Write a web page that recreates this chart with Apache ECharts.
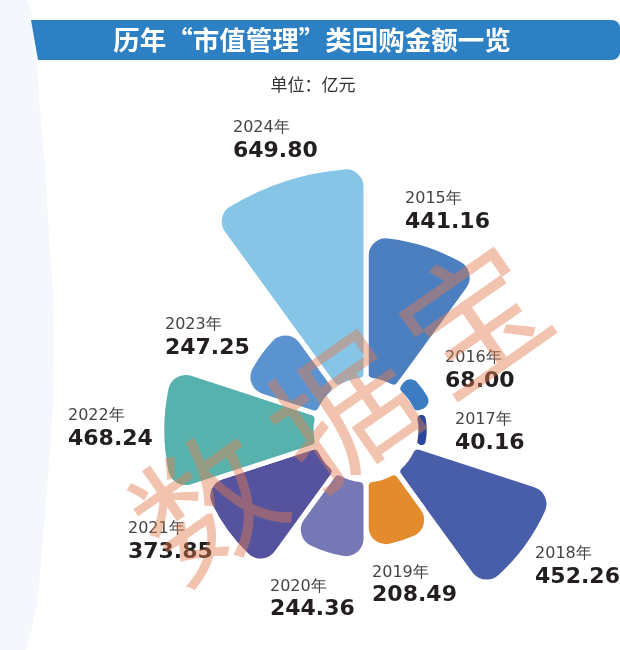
<!DOCTYPE html>
<html>
<head>
<meta charset="utf-8">
<script src="https://cdn.jsdelivr.net/npm/echarts@6/dist/echarts.min.js"></script>
<style>
html,body{margin:0;padding:0;background:#fff;}
#main{width:620px;height:650px;}
</style>
</head>
<body>
<div id="main"></div>
<script>
// Data
const years = ['2015年','2016年','2017年','2018年','2019年','2020年','2021年','2022年','2023年','2024年'];
const amounts = [441.16, 68.00, 40.16, 452.26, 208.49, 244.36, 373.85, 468.24, 247.25, 649.80];
const colors = ['#4b7fc0','#3d7cc3','#2b479c','#485ea8','#e38b2d','#7677b5','#55539d','#57b2ae','#5a93cf','#86c5e6'];
// label nudges (offsets from default outside label anchor)
const nudgeX = [-50, -146, -188, -56, -83, -7, -13, -21, 24, -44];
const nudgeY = [40, 100, 2, -24, -104, -90, -49, -2, 67, -31];

const chart = echarts.init(document.getElementById('main'), null, {renderer: 'canvas'});

const data = years.map((y, i) => ({
  name: y,
  value: amounts[i],
  itemStyle: {color: colors[i]}
}));

const wmColor = 'rgba(226,125,80,0.45)';
const wmFont = 'normal 140px "Noto Sans CJK SC"';

chart.setOption({
  backgroundColor: '#ffffff',
  animation: false,
  graphic: [
    {type: 'polygon', z: -10, shape: {points: [[0,0],[27,0],[40,110],[50,250],[54,350],[46,500],[26,650],[0,650]], smooth: 0.4}, style: {fill: '#f4f7fb'}},
    {type: 'polygon', z: 1, shape: {points: [[31,20],[42,20],[42,60],[38,60]]}, style: {fill: '#2e80c4'}},
    {type: 'rect', z: 1, shape: {x: 40, y: 20, width: 580, height: 40, r: [0, 8, 8, 0]}, style: {fill: '#2e80c4'}},
    {type: 'text', z: 2, x: 312, y: 40, style: {text: '历年“市值管理”类回购金额一览', fill: '#ffffff', font: 'bold 26.5px "Noto Sans CJK SC"', textAlign: 'center', textVerticalAlign: 'middle'}},
    {type: 'text', z: 2, x: 313, y: 85, style: {text: '单位：亿元', fill: '#333333', font: 'normal 17px "Noto Sans CJK SC"', textAlign: 'center', textVerticalAlign: 'middle'}},
    {type: 'group', x: 342, y: 410, rotation: 35 * Math.PI / 180, z: 100, children: [
      {type: 'text', x: -165, y: 0, z: 100, style: {text: '数', fill: wmColor, font: wmFont, textAlign: 'center', textVerticalAlign: 'middle'}},
      {type: 'text', x: 0, y: 0, z: 100, style: {text: '据', fill: wmColor, font: wmFont, textAlign: 'center', textVerticalAlign: 'middle'}},
      {type: 'text', x: 160, y: 0, z: 100, style: {text: '宝', fill: wmColor, font: wmFont, textAlign: 'center', textVerticalAlign: 'middle'}}
    ]}
  ],
  series: [{
    type: 'pie',
    roseType: 'area',
    center: [366, 430],
    radius: [50, 264],
    startAngle: 90,
    clockwise: true,
    avoidLabelOverlap: false,
    itemStyle: {borderColor: '#ffffff', borderWidth: 5, borderRadius: [7, 20]},
    label: {
      show: true,
      position: 'outside',
      formatter: (p) => '{y|' + p.name + '}\n{v|' + amounts[p.dataIndex].toFixed(2) + '}',
      rich: {
        y: {fontSize: 16, color: '#444444', fontFamily: 'DejaVu Sans', lineHeight: 22},
        v: {fontSize: 22, fontWeight: 'bold', color: '#231f20', fontFamily: 'DejaVu Sans', lineHeight: 24}
      }
    },
    labelLine: {show: false, length: 8, length2: 0},
    labelLayout: (p) => ({align: 'left', dx: nudgeX[p.dataIndex], dy: nudgeY[p.dataIndex]}),
    emphasis: {disabled: true},
    data: data
  }]
});
</script>
</body>
</html>
